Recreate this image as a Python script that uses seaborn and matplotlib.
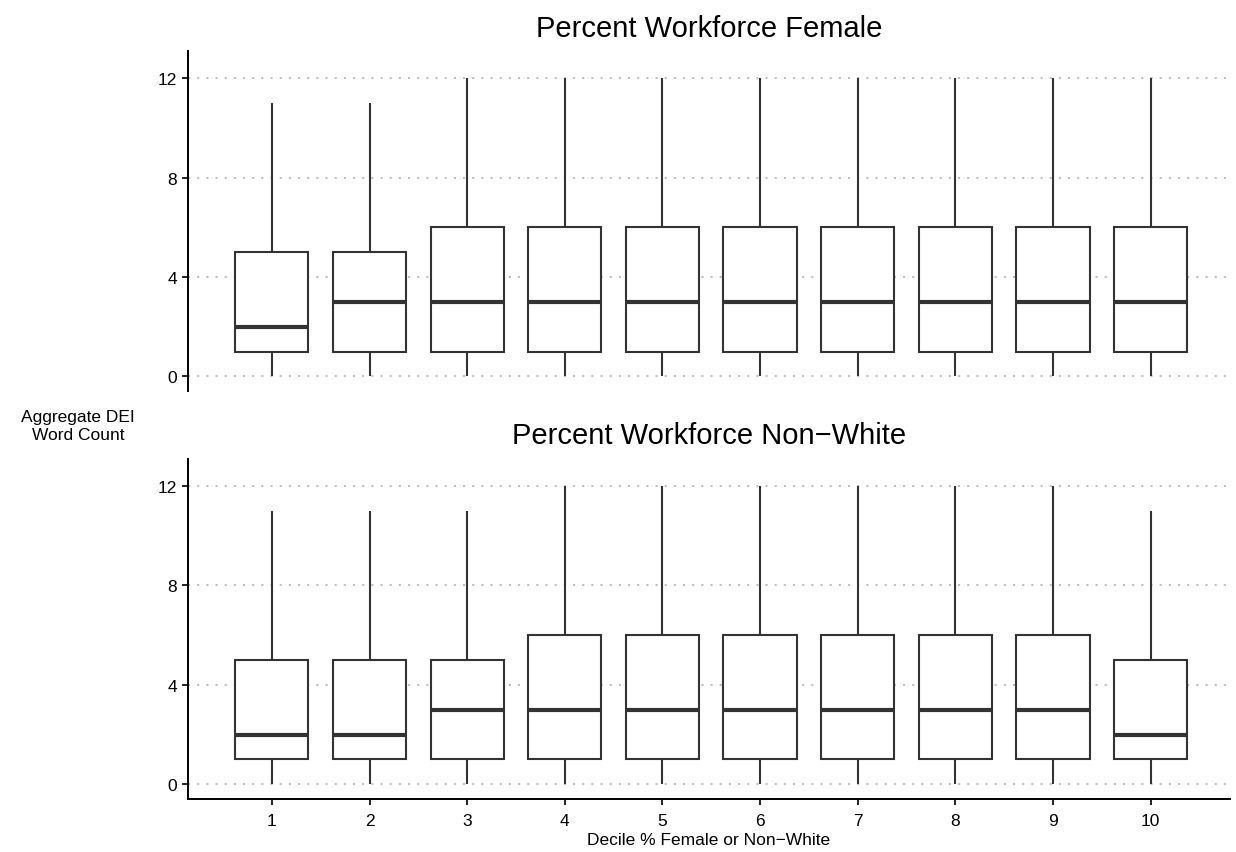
import numpy as np
import pandas as pd
import seaborn as sns
import matplotlib.pyplot as plt

# box stats (min, q1, median, q3, max) per decile
deciles = ['1', '2', '3', '4', '5', '6', '7', '8', '9', '10']

female_min = [0, 0, 0, 0, 0, 0, 0, 0, 0, 0]
female_q1 = [1, 1, 1, 1, 1, 1, 1, 1, 1, 1]
female_med = [2, 3, 3, 3, 3, 3, 3, 3, 3, 3]
female_q3 = [5, 5, 6, 6, 6, 6, 6, 6, 6, 6]
female_max = [11, 11, 12, 12, 12, 12, 12, 12, 12, 12]

nonwhite_min = [0, 0, 0, 0, 0, 0, 0, 0, 0, 0]
nonwhite_q1 = [1, 1, 1, 1, 1, 1, 1, 1, 1, 1]
nonwhite_med = [2, 2, 3, 3, 3, 3, 3, 3, 3, 2]
nonwhite_q3 = [5, 5, 5, 6, 6, 6, 6, 6, 6, 5]
nonwhite_max = [11, 11, 11, 12, 12, 12, 12, 12, 12, 11]

titles = ['Percent Workforce Female', 'Percent Workforce Non\u2212White']
y_ticks = [0, 4, 8, 12]


def long_frame(mins, q1s, meds, q3s, maxs):
    # five points per decile give exactly these quartiles with linear interpolation
    rows = []
    for d, a, b, c, e, f in zip(deciles, mins, q1s, meds, q3s, maxs):
        for v in (a, b, c, e, f):
            rows.append({'decile': d, 'count': v})
    return pd.DataFrame(rows)


panels = [
    long_frame(female_min, female_q1, female_med, female_q3, female_max),
    long_frame(nonwhite_min, nonwhite_q1, nonwhite_med, nonwhite_q3, nonwhite_max),
]

sns.set_style('white')
plt.rcParams['font.family'] = ['Liberation Sans', 'DejaVu Sans']
plt.rcParams['text.color'] = 'black'

fig = plt.figure(figsize=(12.36, 8.53), dpi=100)
ax_top = fig.add_axes([0.152, 0.540, 0.843, 0.399])
ax_bot = fig.add_axes([0.152, 0.062, 0.843, 0.399])

edge = '#333333'
for ax, df, title in zip([ax_top, ax_bot], panels, titles):
    sns.boxplot(data=df, x='decile', y='count', order=deciles, ax=ax,
                whis=(0, 100), width=0.75, color='white', saturation=1,
                linecolor=edge, linewidth=1.5, showcaps=False,
                boxprops={'linewidth': 1.5}, whiskerprops={'linewidth': 1.5},
                medianprops={'linewidth': 3.0, 'color': edge})
    ax.set_xlim(-0.86, 9.81)
    ax.set_ylim(-0.6, 13.1)
    ax.set_yticks(y_ticks)
    ax.yaxis.grid(True, color='#c0c0c0', linewidth=1.5, linestyle=(0, (1, 3.4)))
    ax.xaxis.grid(False)
    ax.set_axisbelow(True)
    ax.set_title(title, fontsize=21, pad=11, color='black')
    ax.set_xlabel('')
    ax.set_ylabel('')
    for s in ['top', 'right']:
        ax.spines[s].set_visible(False)
    ax.spines['left'].set_color('black')
    ax.spines['left'].set_linewidth(1.4)
    ax.spines['bottom'].set_color('black')
    ax.spines['bottom'].set_linewidth(1.4)
    ax.tick_params(axis='both', direction='out', length=4, width=1.2,
                   color='black', labelsize=12.5, labelcolor='black', pad=4)
    ax.tick_params(axis='y', left=True)

# top panel has no x axis
ax_top.spines['bottom'].set_visible(False)
ax_top.tick_params(axis='x', bottom=False, labelbottom=False)
ax_bot.tick_params(axis='x', bottom=True, pad=6)
ax_bot.set_xlabel('Decile % Female or Non\u2212White', fontsize=12.5, labelpad=3,
                  color='black')

fig.text(0.063, 0.5, 'Aggregate DEI\nWord Count', ha='center', va='center',
         multialignment='center', fontsize=12.5, linespacing=1.25, color='black')

fig.savefig('out.png', dpi=100)
